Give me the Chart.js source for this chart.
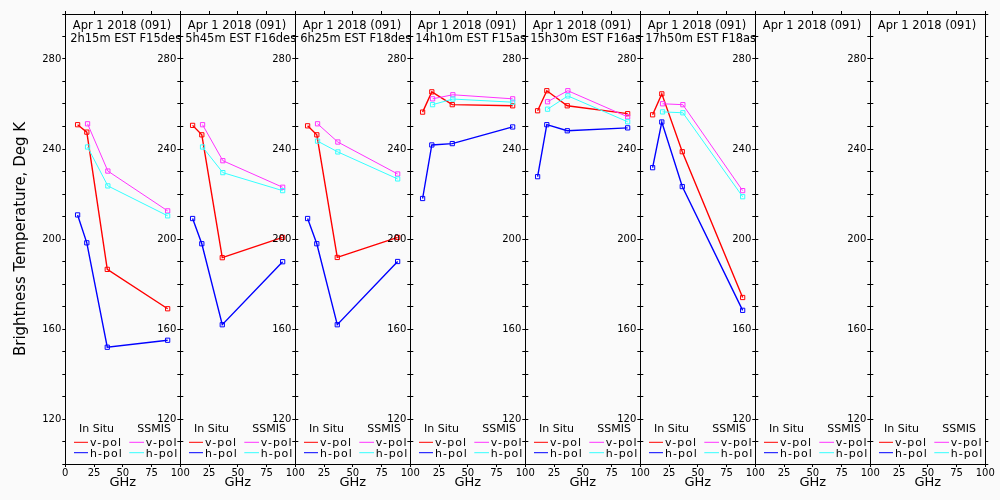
<!DOCTYPE html>
<html>
<head>
<meta charset="utf-8">
<script src="https://cdn.jsdelivr.net/npm/chart.js@4.4.1/dist/chart.umd.min.js"></script>
<style>
  html, body { margin: 0; padding: 0; background: #fafafa; }
  #wrap { position: relative; width: 1000px; height: 500px; overflow: hidden; }
  #wrap canvas { position: absolute; left: 0; top: 0; }
</style>
</head>
<body>
<div id="wrap"></div>
<script>
// Frequencies (GHz)
const inSituGHz = [10.7, 18.7, 36.5, 89];
const ssmisGHz = [19.35, 37, 89];

// Panel headings
const panelDate = 'Apr 1 2018 (091)';
const panelPass = ['2h15m EST F15desc', '5h45m EST F16desc', '6h25m EST F18desc',
                   '14h10m EST F15asc', '15h30m EST F16asc', '17h50m EST F18asc', '', ''];

// Brightness temperatures (Deg K), one row per panel
const inSituV = [
    [250.8, 247.5, 186.5, 169.0],
    [250.5, 246.3, 191.7, 200.7],
    [250.3, 246.3, 191.8, 200.7],
    [256.4, 265.4, 259.7, 259.2],
    [257.0, 265.9, 259.2, 255.7],
    [255.2, 264.5, 238.8, 174.0],
    [],
    []
];
const inSituH = [
    [210.7, 198.3, 151.9, 155.0],
    [209.1, 197.9, 161.9, 189.9],
    [209.1, 197.9, 161.9, 190.0],
    [218.0, 241.8, 242.4, 249.8],
    [227.7, 250.8, 248.1, 249.4],
    [231.7, 252.0, 223.3, 168.3],
    [],
    []
];
const ssmisV = [
    [251.2, 230.2, 212.5],
    [250.8, 234.8, 223.0],
    [251.2, 243.1, 228.9],
    [262.3, 264.1, 262.3],
    [261.0, 265.9, 254.3],
    [260.1, 259.7, 221.5],
    [],
    []
];
const ssmisH = [
    [240.9, 223.6, 210.3],
    [240.9, 229.5, 221.5],
    [243.5, 238.7, 226.7],
    [259.7, 262.2, 260.8],
    [257.7, 263.6, 252.1],
    [256.5, 256.1, 218.8],
    [],
    []
];

const colV = '#ff0000', colH = '#0000ff', colSV = '#ff33ff', colSH = '#33ffff';

Chart.defaults.font.family = '"DejaVu Sans", sans-serif';
Chart.defaults.color = '#000';

function toXY(xs, ys) {
    return ys.map((y, j) => ({ x: xs[j], y: y }));
}

// Heading and legend inside each panel
const panelText = {
    id: 'panelText',
    afterDatasetsDraw(chart, args, opts) {
        const { ctx, chartArea: a } = chart;
        ctx.save();
        ctx.beginPath();
        ctx.rect(a.left, a.top, a.right - a.left, a.bottom - a.top);
        ctx.clip();
        ctx.fillStyle = '#000';
        ctx.font = '11.5px "DejaVu Sans"';
        ctx.textAlign = 'center';
        ctx.textBaseline = 'alphabetic';
        ctx.fillText(opts.date, a.left + 56.7, a.top + 14.7);
        if (opts.pass) ctx.fillText(opts.pass, a.left + 63.5, a.top + 27.7);

        ctx.textAlign = 'left';
        ctx.font = '11px "DejaVu Sans"';
        ctx.fillText('In Situ', a.left + 13.7, a.bottom - 32);
        ctx.fillText('SSMIS', a.left + 72, a.bottom - 32);
        const rows = [
            [colV, 'v-pol', colSV, 'v-pol', -21.7, -18],
            [colH, 'h-pol', colSH, 'h-pol', -11.3, -7.5]
        ];
        ctx.letterSpacing = '1px';
        rows.forEach(r => {
            ctx.lineWidth = 1;
            ctx.strokeStyle = r[0];
            ctx.beginPath();
            ctx.moveTo(a.left + 8.7, a.bottom + r[4]);
            ctx.lineTo(a.left + 22.7, a.bottom + r[4]);
            ctx.stroke();
            ctx.fillText(r[1], a.left + 24.7, a.bottom + r[5]);
            ctx.strokeStyle = r[2];
            ctx.beginPath();
            ctx.moveTo(a.left + 64, a.bottom + r[4]);
            ctx.lineTo(a.left + 78.7, a.bottom + r[4]);
            ctx.stroke();
            ctx.fillText(r[3], a.left + 80.4, a.bottom + r[5]);
        });
        ctx.restore();
    }
};

const L0 = 65.3, W = 115, T = 14, B = 464;
const wrap = document.getElementById('wrap');

for (let i = 0; i < 8; i++) {
    const L = L0 + W * i;
    const cv = document.createElement('canvas');
    cv.width = 1000;
    cv.height = 500;
    cv.style.width = '1000px';
    cv.style.height = '500px';
    wrap.appendChild(cv);

    const line = (label, xs, ys, color, bw) => ({
        label: label,
        data: toXY(xs, ys),
        borderColor: color,
        borderWidth: bw,
        backgroundColor: 'transparent',
        pointStyle: 'rect',
        pointRadius: 3,
        pointBorderWidth: 1,
        pointBackgroundColor: 'transparent',
        pointBorderColor: color,
        tension: 0,
        fill: false
    });

    new Chart(cv, {
        type: 'line',
        data: {
            datasets: [
                line('SSMIS h-pol', ssmisGHz, ssmisH[i], colSH, 1),
                line('SSMIS v-pol', ssmisGHz, ssmisV[i], colSV, 1),
                line('In Situ h-pol', inSituGHz, inSituH[i], colH, 1.4),
                line('In Situ v-pol', inSituGHz, inSituV[i], colV, 1.4)
            ]
        },
        options: {
            responsive: false,
            devicePixelRatio: 1,
            animation: false,
            layout: {
                padding: {
                    left: i === 0 ? 0 : L - 30,
                    right: 1000 - (L + W) - 3,
                    top: T - 3,
                    bottom: 500 - B - 36
                }
            },
            scales: {
                x: {
                    type: 'linear',
                    position: 'bottom',
                    min: 0,
                    max: 100,
                    ticks: {
                        stepSize: 25,
                        autoSkip: false,
                        maxRotation: 0,
                        padding: 0,
                        font: { size: 10 },
                        callback: v => (i > 0 && v === 0) ? '' : v
                    },
                    grid: { drawOnChartArea: false, drawTicks: true, tickLength: 3, color: '#000' },
                    border: { display: true, color: '#000', width: 1 },
                    title: { display: true, text: 'GHz', font: { size: 13 }, padding: { top: 0, bottom: 10 } },
                    afterFit(s) { s.height = 36; s.paddingLeft = 0; s.paddingRight = 0; }
                },
                x2: {
                    type: 'linear',
                    position: 'top',
                    min: 0,
                    max: 100,
                    ticks: { display: false, stepSize: 25 },
                    grid: { drawOnChartArea: false, drawTicks: true, tickLength: 3, color: '#000' },
                    border: { display: true, color: '#000', width: 1 },
                    afterFit(s) { s.height = 3; s.paddingLeft = 0; s.paddingRight = 0; }
                },
                y: {
                    type: 'linear',
                    position: 'left',
                    min: 100,
                    max: 300,
                    ticks: {
                        stepSize: 10,
                        autoSkip: false,
                        padding: 1,
                        font: { size: 10 },
                        callback: v => (v % 40 === 0) ? v : ''
                    },
                    grid: { drawOnChartArea: false, drawTicks: true, tickLength: 3, color: '#000' },
                    border: { display: true, color: '#000', width: 1 },
                    title: {
                        display: i === 0,
                        text: 'Brightness Temperature, Deg K',
                        font: { size: 15 },
                        padding: { top: 12, bottom: 0 }
                    },
                    afterFit(s) { s.width = i === 0 ? L : 30; s.paddingTop = 0; s.paddingBottom = 0; }
                },
                y2: {
                    type: 'linear',
                    position: 'right',
                    min: 100,
                    max: 300,
                    ticks: { display: false, stepSize: 10 },
                    grid: { drawOnChartArea: false, drawTicks: true, tickLength: 3, color: '#000' },
                    border: { display: true, color: '#000', width: 1 },
                    afterFit(s) { s.width = 3; s.paddingTop = 0; s.paddingBottom = 0; }
                }
            },
            plugins: {
                legend: { display: false },
                tooltip: { enabled: false },
                panelText: { date: panelDate, pass: panelPass[i] }
            }
        },
        plugins: [panelText]
    });
}
</script>
</body>
</html>
